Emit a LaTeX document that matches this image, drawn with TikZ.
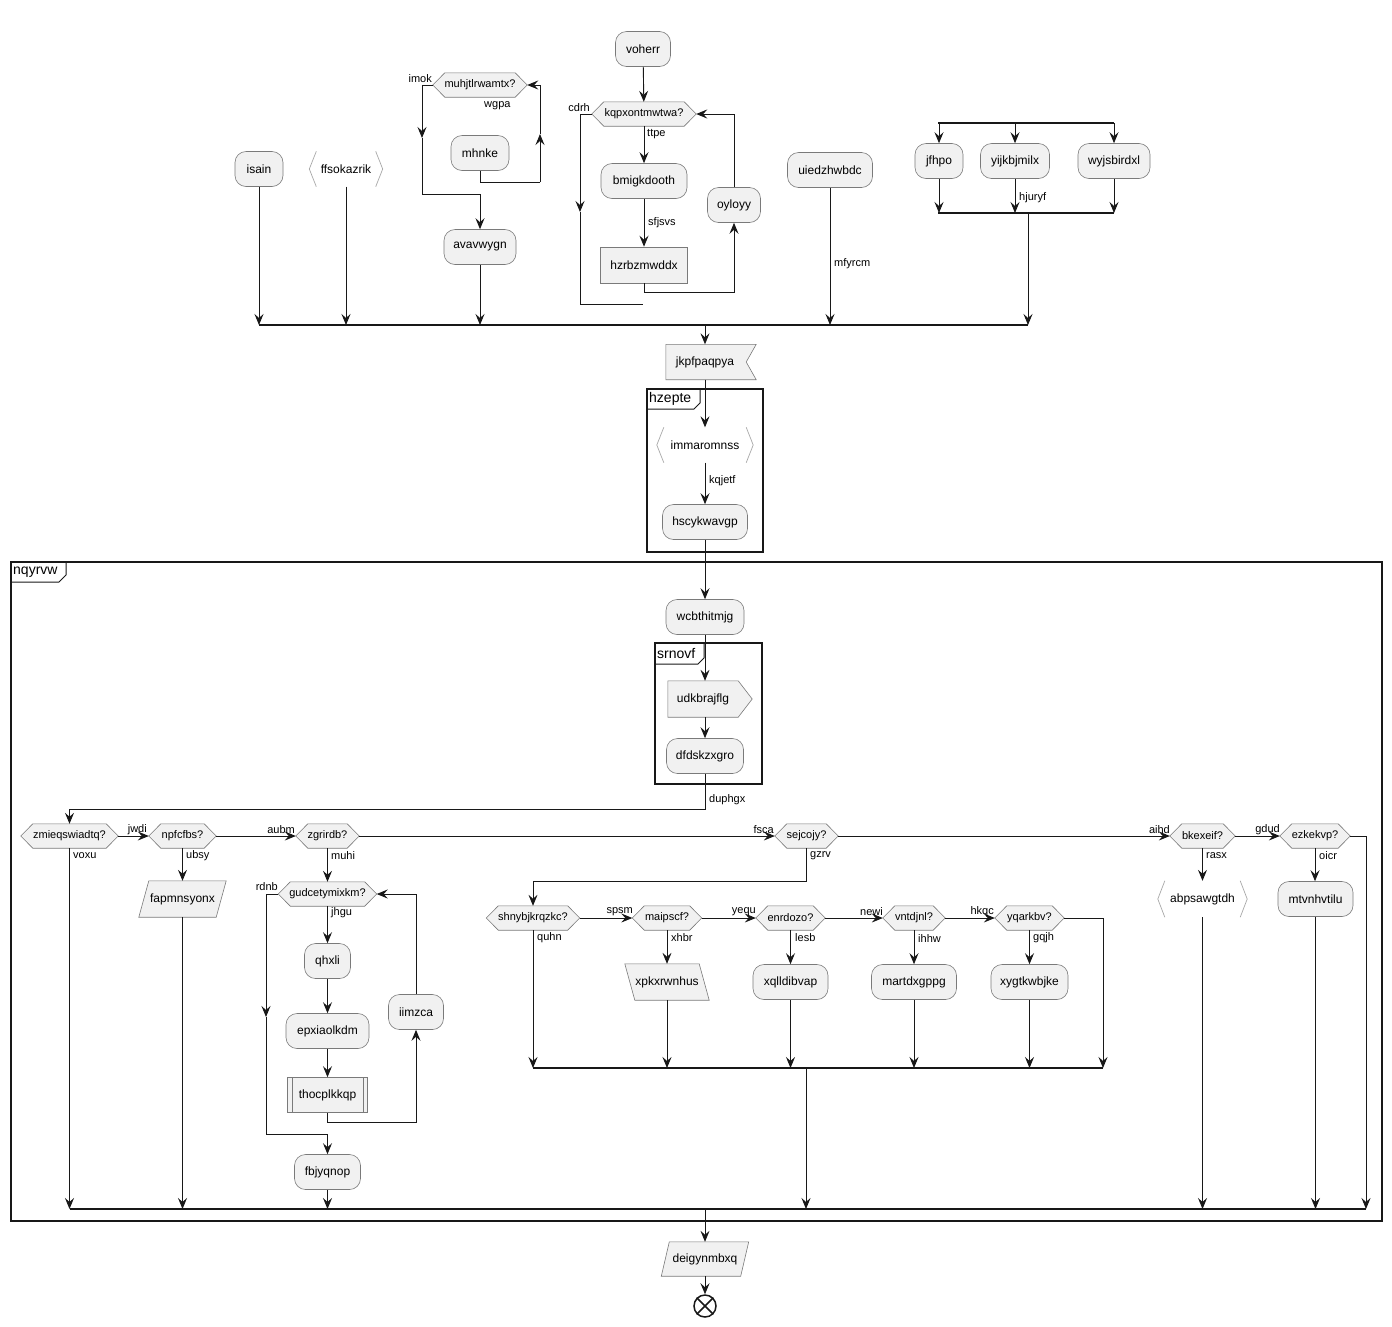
\documentclass[tikz,border=0pt]{standalone}
\usepackage{fontspec}
\setmainfont{Liberation Sans}
\usetikzlibrary{arrows.meta,calc}
\definecolor{nfill}{HTML}{F1F1F1}
\definecolor{nline}{HTML}{181818}
\definecolor{bord}{HTML}{7A7A7A}
\definecolor{brk}{HTML}{A8A8A8}
\pgfdeclarelayer{bg}
\pgfsetlayers{bg,main}
\tikzset{
  base/.style={font=\fontsize{12}{14}\selectfont, inner sep=0pt, align=center},
  act/.style={base, rounded corners=11pt, draw=bord, fill=nfill, line width=0.6pt, minimum height=35pt},
  box/.style={base, draw=bord, fill=nfill, line width=0.6pt, minimum height=36pt},
  txt/.style={base, minimum height=35pt},
  hex/.style={font=\fontsize{11}{13}\selectfont, inner sep=0pt, minimum height=24pt},
  shp/.style={draw=bord, fill=nfill, line width=0.6pt},
  brkline/.style={draw=brk, line width=0.7pt},
  lbl/.style={font=\fontsize{11}{13}\selectfont, inner sep=0pt},
  ftitle/.style={font=\fontsize{14}{16}\selectfont, inner sep=0pt, anchor=west},
  con/.style={draw=nline, line width=0.9pt},
  arr/.style={con, -{Stealth[length=11pt, width=9pt, inset=4pt]}},
  barl/.style={draw=nline, line width=1.8pt},
  frm/.style={draw=nline, line width=1.5pt},
  tabl/.style={draw=nline, line width=1pt},
}
\newcommand\hexshape[1]{\begin{pgfonlayer}{bg}\filldraw[shp] (#1.west) -- ([xshift=12pt]#1.north west) -- ([xshift=-12pt]#1.north east) -- (#1.east) -- ([xshift=-12pt]#1.south east) -- ([xshift=12pt]#1.south west) -- cycle;\end{pgfonlayer}}
\newcommand\brkshape[1]{\draw[brkline] ([xshift=7pt]#1.north west) -- (#1.west) -- ([xshift=7pt]#1.south west); \draw[brkline] ([xshift=-7pt]#1.north east) -- (#1.east) -- ([xshift=-7pt]#1.south east);}
\newcommand\parR[2]{\begin{pgfonlayer}{bg}\filldraw[shp] ([xshift=#2]#1.north west) -- (#1.north east) -- ([xshift=-#2]#1.south east) -- (#1.south west) -- cycle;\end{pgfonlayer}}
\newcommand\parL[2]{\begin{pgfonlayer}{bg}\filldraw[shp] (#1.north west) -- ([xshift=-#2]#1.north east) -- (#1.south east) -- ([xshift=#2]#1.south west) -- cycle;\end{pgfonlayer}}
\begin{document}
\begin{tikzpicture}[x=1pt,y=-1pt]
\useasboundingbox (0,0) rectangle (1392,1326);
\begin{pgfonlayer}{bg}\fill[white] (0,0) rectangle (1392,1326);\end{pgfonlayer}

% ---------------- top area
\node[act, minimum width=48pt] (isain) at (259,169) {isain};
\node[txt, minimum width=73pt] (ffso) at (346,169) {ffsokazrik};
\brkshape{ffso}
\node[hex, minimum width=94pt] (muhj) at (480,85) {muhjtlrwamtx?};
\hexshape{muhj}
\node[act, minimum width=58pt] (mhnke) at (480,153) {mhnke};
\node[act, minimum width=72pt] (avav) at (480,247) {avavwygn};
\node[act, minimum width=55pt] (voherr) at (643,49) {voherr};
\node[hex, minimum width=104pt] (kqpx) at (644,114) {kqpxontmwtwa?};
\hexshape{kqpx}
\node[act, minimum width=86pt] (bmig) at (644,181) {bmigkdooth};
\node[box, minimum width=87pt] (hzrb) at (644,265) {hzrbzmwddx};
\node[act, minimum width=53pt] (oyloyy) at (734,205) {oyloyy};
\node[act, minimum width=85pt] (uied) at (830,170) {uiedzhwbdc};
\node[act, minimum width=48pt] (jfhpo) at (939,161) {jfhpo};
\node[act, minimum width=69pt] (yijk) at (1015,161) {yijkbjmilx};
\node[act, minimum width=72pt] (wyjs) at (1114,161) {wyjsbirdxl};

\coordinate (f1L) at (938,123); \coordinate (f1R) at (1114,123);
\coordinate (f2L) at (938,213); \coordinate (f2R) at (1114,213);
\coordinate (f2o) at (1028,213);
\coordinate (j1L) at (259,325); \coordinate (j1R) at (1028,325);
\coordinate (j1o) at (705,325);

\draw[barl] (f1L) -- (f1R);
\draw[arr] (jfhpo |- f1L) -- (jfhpo);
\draw[arr] (yijk |- f1L) -- (yijk);
\draw[arr] (wyjs |- f1L) -- (wyjs);
\draw[arr] (jfhpo) -- (jfhpo |- f2L);
\draw[arr] (yijk) -- (yijk |- f2L);
\draw[arr] (wyjs) -- (wyjs |- f2L);
\draw[barl] (f2L) -- (f2R);
\draw[arr] (f2o) -- (f2o |- j1L);

\draw[arr] (isain) -- (isain |- j1L);
\draw[arr] (ffso) -- (ffso |- j1L);
\draw[arr] (avav) -- (avav |- j1L);
\draw[arr] (uied) -- (uied |- j1L);
\draw[barl] (j1L) -- (j1R);

% muhj loop
\coordinate (mlA) at (422,138); \coordinate (mlB) at (422,194);
\draw[arr] (muhj.west) -| (mlA);
\draw[arr] (mlA) -- (mlB) -| (avav);
\coordinate (mrA) at (540,182); \coordinate (mrB) at (540,134);
\draw[con] (mhnke.south) |- (mrA);
\draw[arr] (mrA) -- (mrB);
\draw[arr] (mrB) |- (muhj.east);

% kqpx loop
\draw[arr] (voherr) -- (kqpx);
\draw[arr] (kqpx) -- (bmig);
\draw[arr] (bmig) -- (hzrb);
\coordinate (hzA) at (734,292);
\draw[arr] (hzrb.south) |- (hzA) -- (oyloyy);
\draw[arr] (oyloyy) |- (kqpx.east);
\coordinate (kqA) at (580,212); \coordinate (kqB) at (643,304);
\draw[arr] (kqpx.west) -| (kqA);
\draw[con] (kqA) |- (kqB);

\node[lbl, anchor=east] at (432,79) {imok};
\node[lbl, anchor=west] at (484,106) {wgpa};
\node[lbl, anchor=east] at (590,108) {cdrh};
\node[lbl, anchor=west] at (647,134) {ttpe};
\node[lbl, anchor=west] at (648,223) {sfjsvs};
\node[lbl, anchor=west] at (834,264) {mfyrcm};
\node[lbl, anchor=west] at (1019,198) {hjuryf};

% ---------------- middle
\node[txt, minimum width=78pt] (jkp) at (705,362) {jkpfpaqpya};
\begin{pgfonlayer}{bg}\filldraw[shp] (jkp.north west) -- ([xshift=12pt]jkp.north east) -- ([xshift=2pt]jkp.east) -- ([xshift=12pt]jkp.south east) -- (jkp.south west) -- cycle;\end{pgfonlayer}
\draw[arr] (j1o) -- (jkp);

\draw[frm] (647,389) rectangle (763,552);
\draw[tabl] (647,409) -- (694,409) -- (700,403) -- (700,389);
\node[ftitle] at (649,399) {hzepte};
\node[txt, minimum width=96pt] (imma) at (705,445) {immaromnss};
\brkshape{imma}
\node[act, minimum width=85pt] (hscy) at (705,522) {hscykwavgp};
\draw[arr] (jkp) -- (imma);
\draw[arr] (imma) -- (hscy);
\node[lbl, anchor=west] at (709,481) {kqjetf};

% ---------------- nqyrvw
\draw[frm] (11,562) rectangle (1382,1221);
\draw[tabl] (11,582) -- (59,582) -- (66,575) -- (66,562);
\node[ftitle] at (13,572) {nqyrvw};

\node[act, minimum width=78pt] (wcbt) at (705,617) {wcbthitmjg};
\draw[arr] (hscy) -- (wcbt);

\draw[frm] (655,643) rectangle (762,784);
\draw[tabl] (655,664) -- (698,664) -- (704,658) -- (704,643);
\node[ftitle] at (657,653) {srnovf};
\node[txt, minimum width=70pt, minimum height=36pt] (udk) at (703,699) {udkbrajflg};
\begin{pgfonlayer}{bg}\filldraw[shp] (udk.north west) -- (udk.north east) -- ([xshift=14pt]udk.east) -- (udk.south east) -- (udk.south west) -- cycle;\end{pgfonlayer}
\node[act, minimum width=77pt] (dfd) at (705,756) {dfdskzxgro};
\draw[arr] (wcbt) -- (wcbt |- udk.north);
\draw[arr] (wcbt |- udk.south) -- (dfd);

% row of decisions
\node[hex, minimum width=97pt] (zmie) at (69.5,836) {zmieqswiadtq?}; \hexshape{zmie}
\node[hex, minimum width=67pt] (npf) at (182.5,836) {npfcfbs?}; \hexshape{npf}
\node[hex, minimum width=63pt] (zgr) at (327.5,836) {zgrirdb?}; \hexshape{zgr}
\node[hex, minimum width=63pt] (sej) at (806.5,836) {sejcojy?}; \hexshape{sej}
\node[hex, minimum width=65pt] (bke) at (1202.5,836) {bkexeif?}; \hexshape{bke}
\node[hex, minimum width=70pt] (ezk) at (1315,836) {ezkekvp?}; \hexshape{ezk}

\coordinate (dA) at (69.5,809);
\draw[arr] (dfd.south) |- (dA) -- (zmie);
\node[lbl, anchor=west] at (709,800) {duphgx};

\draw[arr] (zmie) -- (npf);
\draw[arr] (npf) -- (zgr);
\draw[arr] (zgr) -- (sej);
\draw[arr] (sej) -- (bke);
\draw[arr] (bke) -- (ezk);

\coordinate (j3L) at (69.5,1209); \coordinate (j3R) at (1366,1209);
\coordinate (eR) at (1366,1209);
\draw[arr] (ezk.east) -| (eR);

% left column
\node[txt, minimum width=87pt, minimum height=36pt] (fapm) at (182.5,899) {fapmnsyonx}; \parR{fapm}{10pt}
\draw[arr] (zmie) -- (zmie |- j3L);
\draw[arr] (npf) -- (fapm);
\draw[arr] (fapm) -- (fapm |- j3L);

% zgr loop
\node[hex, minimum width=98pt] (gud) at (327.5,894) {gudcetymixkm?}; \hexshape{gud}
\node[act, minimum width=46pt] (qhx) at (327.5,961) {qhxli};
\node[act, minimum width=83pt] (epx) at (327.5,1031) {epxiaolkdm};
\node[box, minimum width=80pt, minimum height=35pt] (thoc) at (327.5,1095) {thocplkkqp};
\draw[shp, fill=none] ([xshift=5pt]thoc.north west) -- ([xshift=5pt]thoc.south west);
\draw[shp, fill=none] ([xshift=-5pt]thoc.north east) -- ([xshift=-5pt]thoc.south east);
\node[act, minimum width=55pt] (iimz) at (416,1012) {iimzca};
\node[act, minimum width=66pt] (fbj) at (327.5,1172) {fbjyqnop};
\draw[arr] (zgr) -- (gud);
\draw[arr] (gud) -- (qhx);
\draw[arr] (qhx) -- (epx);
\draw[arr] (epx) -- (thoc);
\coordinate (thA) at (416,1122);
\draw[arr] (thoc.south) |- (thA) -- (iimz);
\draw[arr] (iimz) |- (gud.east);
\coordinate (gA) at (266,1017); \coordinate (gB) at (327.5,1134);
\draw[arr] (gud.west) -| (gA);
\draw[arr] (gA) |- (gB) -- (fbj);
\draw[arr] (fbj) -- (fbj |- j3L);

% sej branch
\node[hex, minimum width=93pt] (shny) at (533,918) {shnybjkrqzkc?}; \hexshape{shny}
\node[hex, minimum width=69pt] (maip) at (667,918) {maipscf?}; \hexshape{maip}
\node[hex, minimum width=69pt] (enr) at (790.5,918) {enrdozo?}; \hexshape{enr}
\node[hex, minimum width=62pt] (vnt) at (914,918) {vntdjnl?}; \hexshape{vnt}
\node[hex, minimum width=69pt] (yqa) at (1029.5,918) {yqarkbv?}; \hexshape{yqa}
\coordinate (sA) at (533,881);
\draw[arr] (sej.south) |- (sA) -- (shny);
\draw[arr] (shny) -- (maip);
\draw[arr] (maip) -- (enr);
\draw[arr] (enr) -- (vnt);
\draw[arr] (vnt) -- (yqa);

\node[txt, minimum width=84pt, minimum height=36pt] (xpkx) at (667,982) {xpkxrwnhus}; \parL{xpkx}{10pt}
\node[act, minimum width=75pt] (xqll) at (790.5,982) {xqlldibvap};
\node[act, minimum width=85pt] (mart) at (914,982) {martdxgppg};
\node[act, minimum width=77pt] (xyg) at (1029.5,982) {xygtkwbjke};

\coordinate (j2L) at (533,1068); \coordinate (j2R) at (1103,1068);
\coordinate (j2o) at (806,1068);
\draw[arr] (yqa.east) -| (j2R);
\draw[arr] (shny) -- (shny |- j2L);
\draw[arr] (maip) -- (xpkx);
\draw[arr] (xpkx) -- (xpkx |- j2L);
\draw[arr] (enr) -- (xqll);
\draw[arr] (xqll) -- (xqll |- j2L);
\draw[arr] (vnt) -- (mart);
\draw[arr] (mart) -- (mart |- j2L);
\draw[arr] (yqa) -- (xyg);
\draw[arr] (xyg) -- (xyg |- j2L);
\draw[barl] (j2L) -- (j2R);
\draw[arr] (j2o) -- (j2o |- j3L);

% right branches
\node[txt, minimum width=89pt, minimum height=36pt] (abps) at (1202.5,899) {abpsawgtdh}; \brkshape{abps}
\node[act, minimum width=75pt] (mtvn) at (1315.5,899) {mtvnhvtilu};
\draw[arr] (bke) -- (abps);
\draw[arr] (abps) -- (abps |- j3L);
\draw[arr] (ezk) -- (ezk |- mtvn.north);
\draw[arr] (mtvn) -- (mtvn |- j3L);

\draw[barl] (j3L) -- (j3R);

% labels
\node[lbl, anchor=west] at (73,856) {voxu};
\node[lbl, anchor=east] at (147,830) {jwdi};
\node[lbl, anchor=west] at (186,856) {ubsy};
\node[lbl, anchor=east] at (295,830) {aubm};
\node[lbl, anchor=west] at (331,856) {muhi};
\node[lbl, anchor=east] at (278,887) {rdnb};
\node[lbl, anchor=west] at (331,913) {jhgu};
\node[lbl, anchor=east] at (774,830) {fsca};
\node[lbl, anchor=west] at (810,856) {gzrv};
\node[lbl, anchor=east] at (633,912) {spsm};
\node[lbl, anchor=east] at (756,912) {yequ};
\node[lbl, anchor=west] at (537,938) {quhn};
\node[lbl, anchor=west] at (671,938) {xhbr};
\node[lbl, anchor=west] at (795,938) {lesb};
\node[lbl, anchor=east] at (883,912) {newi};
\node[lbl, anchor=west] at (918,938) {ihhw};
\node[lbl, anchor=east] at (994,912) {hkqc};
\node[lbl, anchor=west] at (1033,938) {gqjh};
\node[lbl, anchor=east] at (1170,830) {aihd};
\node[lbl, anchor=west] at (1206,856) {rasx};
\node[lbl, anchor=east] at (1280,830) {gdud};
\node[lbl, anchor=west] at (1319,856) {oicr};

% ---------------- bottom
\coordinate (j3o) at (705,1209);
\node[txt, minimum width=87pt, minimum height=34pt] (deig) at (705,1259) {deigynmbxq}; \parR{deig}{8pt}
\node[circle, draw=nline, line width=1.5pt, minimum size=22pt, inner sep=0pt] (endc) at (705,1306) {};
\draw[nline, line width=1.5pt] (endc.north west) -- (endc.south east);
\draw[nline, line width=1.5pt] (endc.north east) -- (endc.south west);
\draw[arr] (j3o) -- (deig);
\draw[arr] (deig) -- (endc);
\end{tikzpicture}
\end{document}
